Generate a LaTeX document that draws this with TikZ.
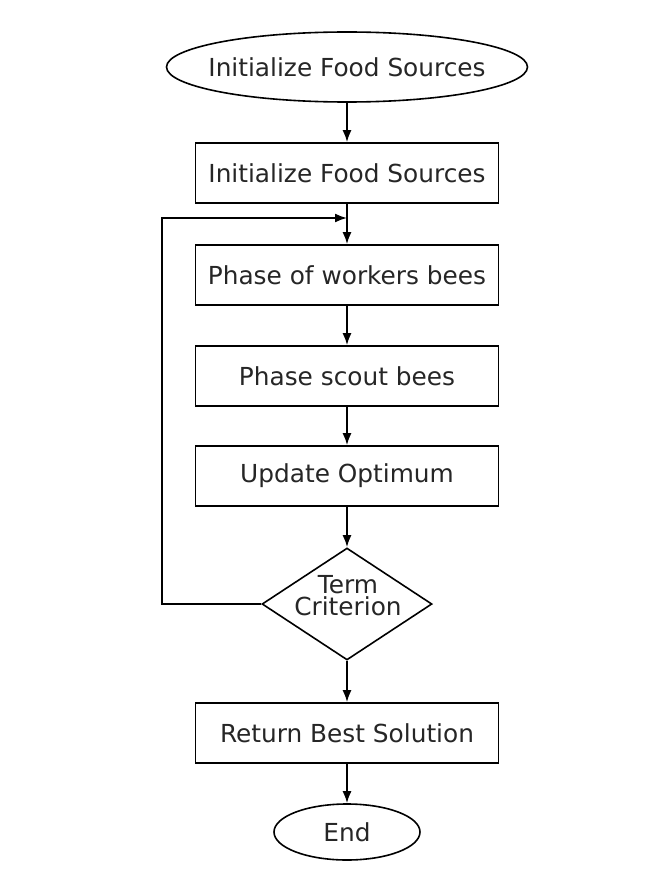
\documentclass[tikz,border=0pt]{standalone}
\usepackage{fontspec}
\setmainfont{DejaVu Sans}
\usetikzlibrary{shapes.geometric,arrows.meta}
\begin{document}
\begin{tikzpicture}[x=1pt,y=-1pt,
  every node/.style={font=\fontsize{24.8}{28}\selectfont, text=black!85},
  boxnode/.style={draw, line width=1.6pt, minimum width=303pt, minimum height=60pt, inner sep=0pt},
  ovalnode/.style={draw, ellipse, line width=1.6pt, inner sep=0pt},
  decnode/.style={draw, diamond, line width=1.6pt, minimum width=170pt, minimum height=112pt, inner sep=0pt},
  arr/.style={line width=1.8pt, -{Latex[length=12pt,width=9pt]}}]
\useasboundingbox (0,0) rectangle (650,872);
\node[ovalnode, minimum width=361pt, minimum height=70pt] (start) at (347,67) {\makebox[0pt]{Initialize Food Sources}};
\node[boxnode] (init) at (347,173) {Initialize Food Sources};
\node[boxnode] (work) at (347,275) {Phase of workers bees};
\node[boxnode] (scout) at (347,376) {Phase scout bees};
\node[boxnode] (upd) at (347,476) {Update Optimum};
\node[decnode] (dec) at (347,604) {};
\node[align=center, inner sep=0pt, font=\fontsize{24.8}{22}\selectfont] (dectext) at (348,596) {Term\\Criterion};
\node[boxnode] (ret) at (347,733) {Return Best Solution};
\node[ovalnode, minimum width=146pt, minimum height=56pt] (end) at (347,832) {\makebox[0pt]{End}};
\coordinate (lp) at (162,218);
\coordinate (jn) at (347,218);
\draw[arr] (start) -- (init);
\draw[arr] (init) -- (work);
\draw[arr] (work) -- (scout);
\draw[arr] (scout) -- (upd);
\draw[arr] (upd) -- (dec.north);
\draw[arr] (dec.south) -- (ret.north);
\draw[arr] (ret) -- (end);
\draw[arr] (dec.west) -- (dec.west -| lp) -- (lp) -- (jn);
\end{tikzpicture}
\end{document}
